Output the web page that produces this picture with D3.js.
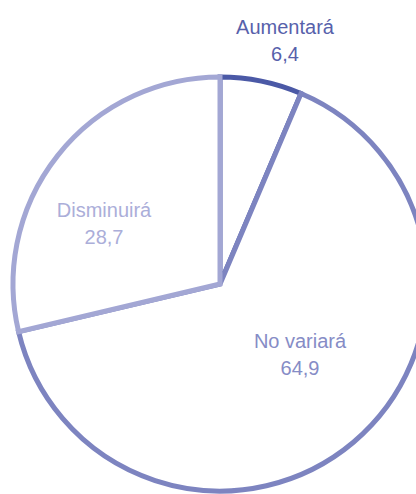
<!DOCTYPE html>
<html>
<head>
<meta charset="utf-8">
<script src="https://cdn.jsdelivr.net/npm/d3@7"></script>
<style>
html,body{margin:0;padding:0;background:#fff;overflow:hidden;}
svg{display:block;}
</style>
</head>
<body>
<svg id="chart" width="416" height="494"></svg>
<script>
const categories = ["Aumentará", "No variará", "Disminuirá"];
const values = [6.4, 64.9, 28.7];
const valueLabels = ["6,4", "64,9", "28,7"];
const strokeColors = ["#4b59a6", "#7d84c0", "#a3a7d4"];
const textColors = ["#5761ab", "#868cc6", "#abaed9"];

const W = 416, H = 494;
const cx = 220, cy = 284, R = 207;
// label anchor positions (layout), relative to pie center
const labelPos = [[65, -250], [80, 64], [-116, -67]];

const svg = d3.select("#chart");
const g = svg.append("g").attr("transform", `translate(${cx},${cy})`);

const pie = d3.pie().sort(null).value(d => d.v);
const arcs = pie(categories.map((c, i) => ({c, v: values[i], i})));
const arc = d3.arc().innerRadius(0).outerRadius(R);

g.selectAll("path.slice")
  .data(arcs)
  .join("path")
  .attr("class", "slice")
  .attr("d", arc)
  .attr("fill", "#fff")
  .attr("stroke", d => strokeColors[d.data.i])
  .attr("stroke-width", 5)
  .attr("stroke-linejoin", "miter");

const lab = g.selectAll("g.lab")
  .data(arcs)
  .join("g")
  .attr("class", "lab")
  .attr("transform", d => `translate(${labelPos[d.data.i][0]},${labelPos[d.data.i][1]})`);

lab.append("text")
  .attr("text-anchor", "middle")
  .attr("font-family", "'Liberation Sans', Arial, sans-serif")
  .attr("font-size", 20)
  .attr("fill", d => textColors[d.data.i])
  .text(d => d.data.c);

lab.append("text")
  .attr("text-anchor", "middle")
  .attr("y", 27)
  .attr("font-family", "'Liberation Sans', Arial, sans-serif")
  .attr("font-size", 20)
  .attr("fill", d => textColors[d.data.i])
  .text(d => valueLabels[d.data.i]);
</script>
</body>
</html>
